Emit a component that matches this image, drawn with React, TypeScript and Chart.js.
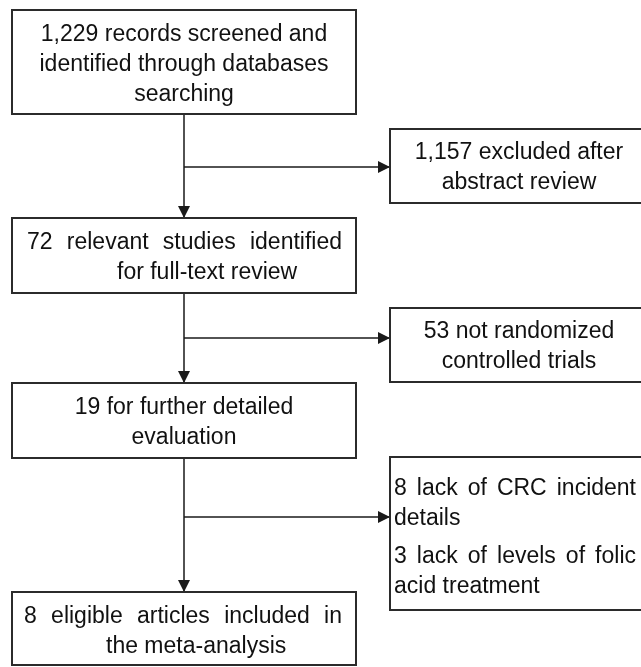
import React, { useEffect, useRef } from "react";
import { Chart, registerables } from "chart.js";

Chart.register(...registerables);

// ---------- content (text of each flowchart stage) ----------
const screenedLines = ["1,229 records screened and", "identified through databases", "searching"];
const abstractExcludedLines = ["1,157 excluded after", "abstract review"];
const fullTextLines = ["72 relevant studies identified", "for full-text review"];
const notRctLines = ["53 not randomized", "controlled trials"];
const detailedLines = ["19 for further detailed", "evaluation"];
const lackLines = ["8 lack of CRC incident", "details", "3 lack of levels of folic", "acid treatment"];
const eligibleLines = ["8 eligible articles included in", "the meta-analysis"];

// ---------- layout (in the flowchart's own coordinate space) ----------
const W = 641;
const H = 667;
const FONT = '23px "Liberation Sans", Arial, Helvetica, sans-serif';

type LineSpec = { align: "center" | "justify" | "left"; y: number; x0?: number; x1?: number };
type BoxSpec = { text: string[]; rect: [number, number, number, number]; lines: LineSpec[] };

const BOXES: BoxSpec[] = [
  {
    text: screenedLines,
    rect: [12, 10, 356, 114],
    lines: [
      { align: "center", y: 41 },
      { align: "center", y: 71 },
      { align: "center", y: 101 },
    ],
  },
  {
    text: abstractExcludedLines,
    rect: [390, 129, 648, 203],
    lines: [
      { align: "center", y: 159 },
      { align: "center", y: 189 },
    ],
  },
  {
    text: fullTextLines,
    rect: [12, 218, 356, 293],
    lines: [
      { align: "justify", y: 249, x0: 27, x1: 342 },
      { align: "left", y: 279, x0: 117 },
    ],
  },
  {
    text: notRctLines,
    rect: [390, 308, 648, 382],
    lines: [
      { align: "center", y: 338 },
      { align: "center", y: 368 },
    ],
  },
  {
    text: detailedLines,
    rect: [12, 383, 356, 458],
    lines: [
      { align: "center", y: 414 },
      { align: "center", y: 444 },
    ],
  },
  {
    text: lackLines,
    rect: [390, 457, 648, 610],
    lines: [
      { align: "justify", y: 495, x0: 394, x1: 636 },
      { align: "left", y: 525, x0: 394 },
      { align: "justify", y: 563, x0: 394, x1: 636 },
      { align: "left", y: 593, x0: 394 },
    ],
  },
  {
    text: eligibleLines,
    rect: [12, 592, 356, 665],
    lines: [
      { align: "justify", y: 623, x0: 24, x1: 342 },
      { align: "left", y: 653, x0: 106 },
    ],
  },
];

// connectors: each ends with an arrowhead at its last point
const CONNECTORS: { x: number; y: number }[][] = [
  [{ x: 184, y: 114 }, { x: 184, y: 218 }],
  [{ x: 184, y: 167 }, { x: 390, y: 167 }],
  [{ x: 184, y: 293 }, { x: 184, y: 383 }],
  [{ x: 184, y: 338 }, { x: 390, y: 338 }],
  [{ x: 184, y: 458 }, { x: 184, y: 592 }],
  [{ x: 184, y: 517 }, { x: 390, y: 517 }],
];

const LINE_COLOR = "#1a1a1a";
const BOX_COLOR = "#2b2b2b";
const TEXT_COLOR = "#111111";

const flowPlugin = {
  id: "flowchart",
  afterDatasetsDraw(chart: any) {
    const ctx: CanvasRenderingContext2D = chart.ctx;
    const xs = chart.scales.x;
    const ys = chart.scales.y;
    const px = (v: number) => xs.getPixelForValue(v);
    const py = (v: number) => ys.getPixelForValue(v);

    ctx.save();
    // arrowheads
    ctx.fillStyle = LINE_COLOR;
    chart.data.datasets.forEach((ds: any) => {
      const pts = ds.data;
      const a = pts[pts.length - 2];
      const b = pts[pts.length - 1];
      const ax = px(a.x), ay = py(a.y), bx = px(b.x), by = py(b.y);
      const ang = Math.atan2(by - ay, bx - ax);
      const len = 12;
      const half = 6;
      ctx.beginPath();
      ctx.moveTo(bx, by);
      ctx.lineTo(bx - len * Math.cos(ang) + half * Math.sin(ang), by - len * Math.sin(ang) - half * Math.cos(ang));
      ctx.lineTo(bx - len * Math.cos(ang) - half * Math.sin(ang), by - len * Math.sin(ang) + half * Math.cos(ang));
      ctx.closePath();
      ctx.fill();
    });

    // boxes and text
    ctx.font = FONT;
    BOXES.forEach((box) => {
      const [x0, y0, x1, y1] = box.rect;
      const l = px(x0), t = py(y0), r = px(x1), b = py(y1);
      ctx.fillStyle = "#ffffff";
      ctx.fillRect(l, t, r - l, b - t);
      ctx.strokeStyle = BOX_COLOR;
      ctx.lineWidth = 2;
      ctx.strokeRect(l, t, r - l, b - t);

      ctx.fillStyle = TEXT_COLOR;
      ctx.textBaseline = "alphabetic";
      box.lines.forEach((spec, i) => {
        const text = box.text[i];
        const y = py(spec.y);
        if (spec.align === "center") {
          ctx.textAlign = "center";
          ctx.fillText(text, (l + r) / 2, y);
        } else if (spec.align === "left") {
          ctx.textAlign = "left";
          ctx.fillText(text, px(spec.x0 as number), y);
        } else {
          ctx.textAlign = "left";
          const words = text.split(" ");
          const widths = words.map((w) => ctx.measureText(w).width);
          const total = widths.reduce((s, w) => s + w, 0);
          const a = px(spec.x0 as number);
          const z = px(spec.x1 as number);
          const gap = words.length > 1 ? (z - a - total) / (words.length - 1) : 0;
          let cx = a;
          words.forEach((w, k) => {
            ctx.fillText(w, cx, y);
            cx += widths[k] + gap;
          });
        }
      });
    });
    ctx.restore();
  },
};

export default function App() {
  const ref = useRef<HTMLCanvasElement | null>(null);

  useEffect(() => {
    if (!ref.current) return;
    const chart = new Chart(ref.current, {
      type: "scatter",
      data: {
        datasets: CONNECTORS.map((pts) => ({
          data: pts,
          showLine: true,
          borderColor: LINE_COLOR,
          borderWidth: 1.5,
          pointRadius: 0,
          pointHoverRadius: 0,
          fill: false,
        })),
      },
      options: {
        animation: false,
        responsive: true,
        maintainAspectRatio: false,
        devicePixelRatio: 1,
        layout: { padding: 0 },
        events: [],
        scales: {
          x: { type: "linear", min: 0, max: W, display: false },
          y: { type: "linear", min: 0, max: H, reverse: true, display: false },
        },
        plugins: {
          legend: { display: false },
          tooltip: { enabled: false },
          title: { display: false },
        },
      },
      plugins: [flowPlugin],
    });
    return () => chart.destroy();
  }, []);

  return (
    <div style={{ position: "absolute", left: 0, top: 0, width: W, height: H, background: "#ffffff" }}>
      <canvas ref={ref} />
    </div>
  );
}
